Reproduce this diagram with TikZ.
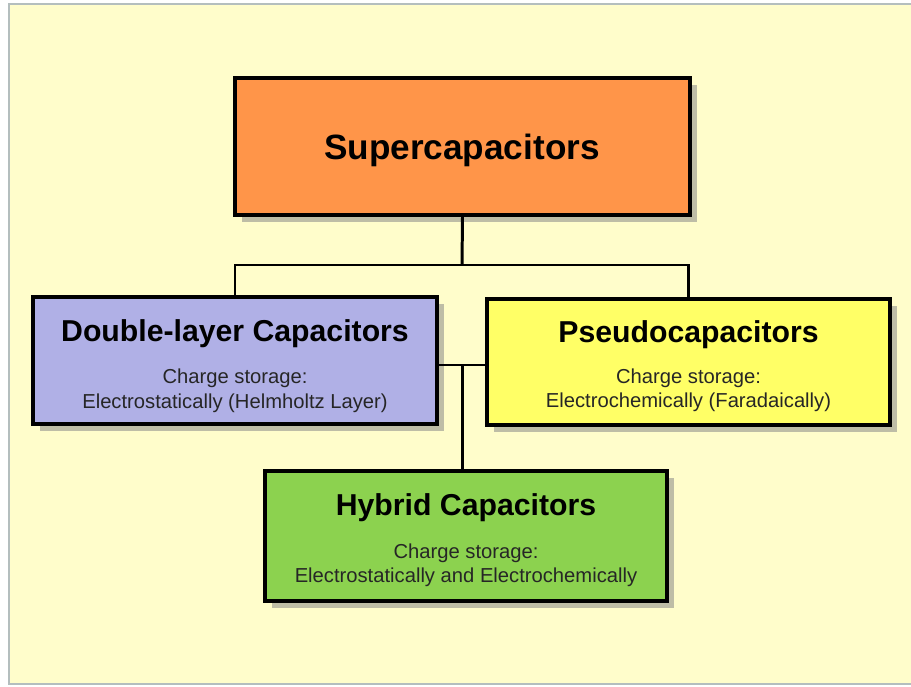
\documentclass[tikz,border=0pt]{standalone}
\usepackage{fontspec}
\setmainfont{Liberation Sans}
\usepackage{tikz}
\usetikzlibrary{shapes,positioning,shadows}
\usepackage{xcolor}
\definecolor{slidebg}{HTML}{FFFDCB}
\definecolor{slideframe}{HTML}{B4BEBE}
\definecolor{shadowc}{HTML}{BEBDA6}
\definecolor{superc}{HTML}{FF9549}
\definecolor{doublec}{HTML}{B0B0E6}
\definecolor{pseudoc}{HTML}{FFFF66}
\definecolor{hybridc}{HTML}{8CD24F}
\tikzstyle{category}=[draw, line width=1.8pt, inner sep=0pt, drop shadow={shadow xshift=0.14cm, shadow yshift=-0.14cm, fill=shadowc, opacity=1}]
\tikzstyle{main title}=[anchor=base, font=\fontsize{20}{24}\selectfont\bfseries]
\tikzstyle{box title}=[anchor=base, font=\fontsize{17.2}{20}\selectfont\bfseries]
\tikzstyle{box text}=[anchor=base, font=\fontsize{11.5}{13}\selectfont, text=black!85]
\tikzstyle{connector}=[line width=1.7pt]
\begin{document}
\begin{tikzpicture}[x=0.02cm, y=-0.02cm]
        % Sfondo
        \useasboundingbox (0,0) rectangle (911,686);
        \fill[white] (0,0) rectangle (911,686);
        \fill[slidebg] (9,4) rectangle (911,684);
        \draw[slideframe, line width=0.8pt] (911,4) -- (9,4) -- (9,684) -- (911,684);

        % Supercapacitors
        \node[category, fill=superc, minimum width=9.1cm, minimum height=2.74cm] (super) at (462.5,146.5) {};
        \node[main title] (super title) at (462,159) {Supercapacitors};

        % Double-layer
        \node[category, fill=doublec, minimum width=8.08cm, minimum height=2.54cm] (double) at (235,360.5) {};
        \node[box title] (double title) at (235,341) {Double-layer Capacitors};
        \node[box text] (double line1) at (235,383) {Charge storage:};
        \node[box text] (double line2) at (235,408) {Electrostatically (Helmholtz Layer)};

        % Pseudo
        \node[category, fill=pseudoc, minimum width=8.06cm, minimum height=2.52cm] (pseudo) at (688.5,362) {};
        \node[box title] (pseudo title) at (688.5,342) {Pseudocapacitors};
        \node[box text] (pseudo line1) at (688.5,383) {Charge storage:};
        \node[box text] (pseudo line2) at (688.5,407) {Electrochemically (Faradaically)};

        % Hybrid
        \node[category, fill=hybridc, minimum width=8.04cm, minimum height=2.6cm] (hybrid) at (466,536) {};
        \node[box title] (hybrid title) at (466,515) {Hybrid Capacitors};
        \node[box text] (hybrid line1) at (466,558) {Charge storage:};
        \node[box text] (hybrid line2) at (466,582) {Electrostatically and Electrochemically};

        % Collegamenti
        \coordinate (split) at (462,265);
        \coordinate (join) at (462,365);
        \draw[connector] (super.south) -- (split);
        \draw[connector] (split) -| (double.north);
        \draw[connector] (split) -| (pseudo.north);
        \draw[connector] (join -| double.east) -- (join -| pseudo.west);
        \draw[connector] (hybrid.north -| join) -- (join);
    \end{tikzpicture}
\end{document}
